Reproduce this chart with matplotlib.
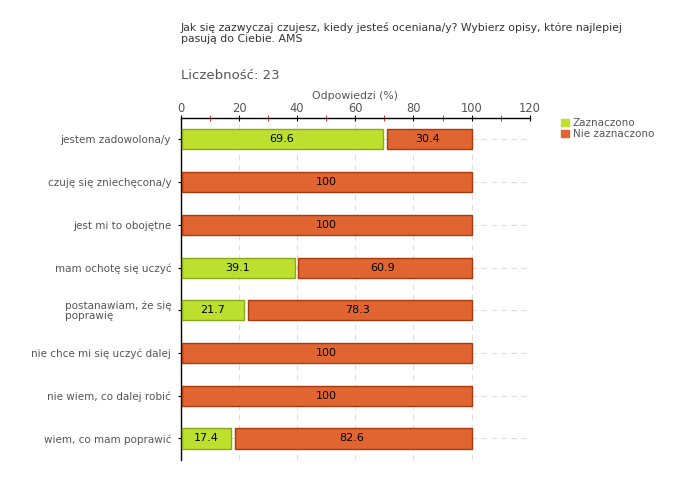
import matplotlib.pyplot as plt
from matplotlib.ticker import MultipleLocator

# answers per statement, percentage of respondents
categories = [
    "jestem zadowolona/y",
    "czuję się zniechęcona/y",
    "jest mi to obojętne",
    "mam ochotę się uczyć",
    "postanawiam, że się\npoprawię",
    "nie chce mi się uczyć dalej",
    "nie wiem, co dalej robić",
    "wiem, co mam poprawić",
]
zaznaczono = [69.6, 0, 0, 39.1, 21.7, 0, 0, 17.4]
nie_zaznaczono = [30.4, 100, 100, 60.9, 78.3, 100, 100, 82.6]
series_names = ["Zaznaczono", "Nie zaznaczono"]

title = "Jak się zazwyczaj czujesz, kiedy jesteś oceniana/y? Wybierz opisy, które najlepiej\npasują do Ciebie. AMS"
count_label = "Liczebność: 23"
x_label = "Odpowiedzi (%)"

green, green_edge = "#bde02e", "#8aa81c"
orange, orange_edge = "#e06530", "#a83a0e"
grey = "#555555"

fig = plt.figure(figsize=(6.8, 4.8), dpi=100)
ax = fig.add_axes([0.266, 0.042, 0.513, 0.712])

y = range(len(categories))
gap = 1.3  # small visual gap between segments
pad = 0.4  # bars start just right of the axis line
h = 0.47
for i in y:
    g, o = zaznaczono[i], nie_zaznaczono[i]
    if g > 0:
        ax.barh(i, g - pad, left=pad, height=h, color=green, edgecolor=green_edge, linewidth=1, zorder=3)
        ax.text(g / 2, i, f"{g:.1f}", ha="center", va="center", fontsize=8, color="black", zorder=4)
        left = g + gap
    else:
        left = pad
    ax.barh(i, g + o - left, left=left, height=h, color=orange, edgecolor=orange_edge, linewidth=1, zorder=3)
    lbl = f"{o:.1f}" if o != 100 else "100"
    ax.text(g + o / 2, i, lbl, ha="center", va="center", fontsize=8, color="black", zorder=4)

ax.set_xlim(0, 120)
ax.set_ylim(len(categories) - 0.5, -0.5)
ax.set_yticks(list(y))
ax.set_yticklabels(categories, fontsize=7.5, color=grey, linespacing=0.95, multialignment="left")
ax.xaxis.set_major_locator(MultipleLocator(20))
ax.xaxis.set_minor_locator(MultipleLocator(10))
ax.xaxis.tick_top()
ax.tick_params(axis="x", which="major", labelsize=8.3, labelcolor=grey, length=5, direction="inout",
               color="black", pad=-0.5)
ax.tick_params(axis="x", which="minor", length=5, direction="inout", color="red")
ax.tick_params(axis="y", length=4, direction="inout", pad=5)

# axis title sits above the top tick labels
fig.text(0.522, 0.800, x_label, fontsize=7.8, color=grey, ha="center", va="center")

for s in ["right", "bottom"]:
    ax.spines[s].set_visible(False)
ax.spines["top"].set_linewidth(1)
ax.spines["left"].set_linewidth(1)

ax.grid(True, which="major", linestyle=(0, (5, 4)), color="#dddddd", linewidth=0.8, zorder=0)
ax.set_axisbelow(True)

fig.text(0.266, 0.955, title, fontsize=7.8, color="#333333", va="top", ha="left", linespacing=1.15)
fig.text(0.266, 0.843, count_label, fontsize=9.5, color=grey, va="center", ha="left")

handles = [plt.Rectangle((0, 0), 1, 1, color=green), plt.Rectangle((0, 0), 1, 1, color=orange)]
fig.legend(handles, series_names, loc="upper left", bbox_to_anchor=(0.818, 0.765), frameon=False,
           fontsize=7.5, labelcolor=grey, handlelength=0.7, handleheight=0.7, handletextpad=0.4,
           labelspacing=0.1, borderpad=0)

fig.savefig("out.png", dpi=100)
